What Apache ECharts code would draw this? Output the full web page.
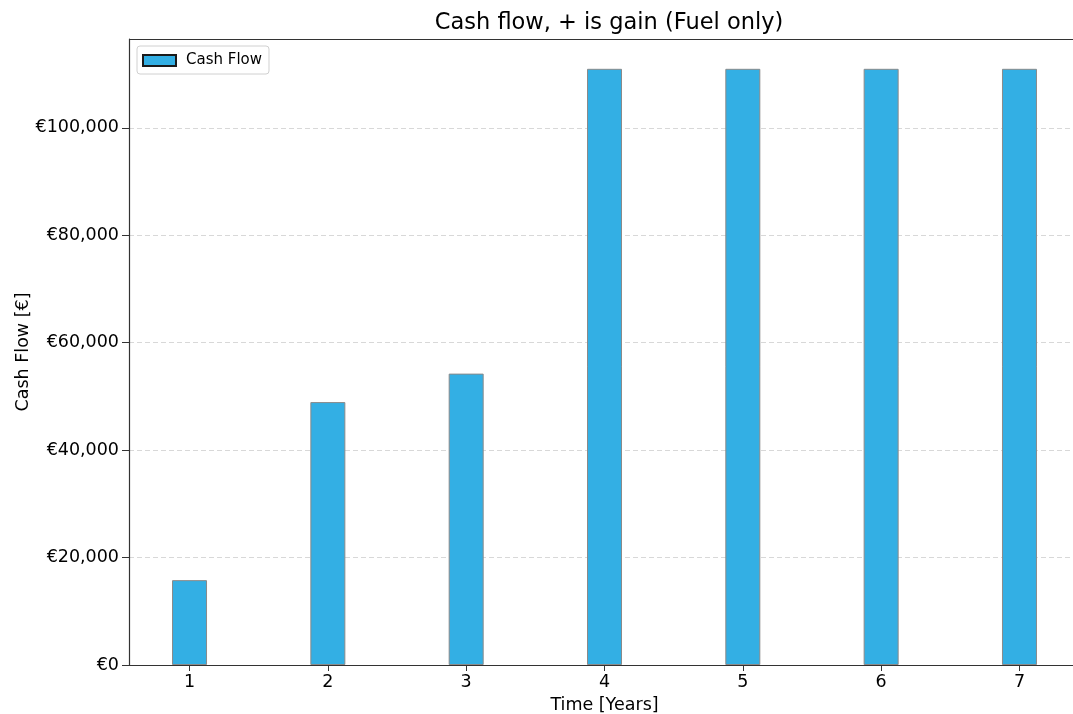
<!DOCTYPE html>
<html>
<head>
<meta charset="utf-8">
<script src="https://cdn.jsdelivr.net/npm/echarts@6/dist/echarts.min.js"></script>
<style>
html,body{margin:0;padding:0;background:#fff;overflow:hidden;}
#chart{position:absolute;left:0;top:0;width:1073px;height:714px;}
</style>
</head>
<body>
<div id="chart"></div>
<script>
const years = [1, 2, 3, 4, 5, 6, 7];
const cashFlow = [15800, 48950, 54250, 111000, 111000, 111000, 111000];
const yTicks = [0, 20000, 40000, 60000, 80000, 100000];

const FONT = 'DejaVu Sans';
const chart = echarts.init(document.getElementById('chart'));
const fmt = v => '€' + v.toLocaleString('en-US');

chart.setOption({
  animation: false,
  backgroundColor: '#ffffff',
  textStyle: { fontFamily: FONT },
  title: {
    text: 'Cash flow, + is gain (Fuel only)',
    left: 604, top: 7, textAlign: 'center',
    textStyle: { fontFamily: FONT, fontSize: 22.5, fontWeight: 'normal', color: '#000' }
  },
  legend: {
    left: 137, top: 46,
    data: ['Cash Flow'],
    orient: 'vertical',
    icon: 'rect',
    itemWidth: 33, itemHeight: 11,
    itemGap: 10,
    padding: [7, 7, 6, 5],
    borderColor: '#d0d0d0', borderWidth: 1, borderRadius: 3,
    backgroundColor: 'rgba(255,255,255,0.8)',
    itemStyle: { color: '#33AFE4', borderColor: '#1a1a1a', borderWidth: 2 },
    textStyle: { fontFamily: FONT, fontSize: 15, color: '#000', padding: [0, 0, 0, 5] }
  },
  grid: { left: 129, right: -7, top: 39, bottom: 49, containLabel: false, outerBoundsMode: 'none', show: false },
  xAxis: {
    type: 'value',
    min: 0.5625, max: 7.4375,
    interval: 1,
    name: 'Time [Years]', nameLocation: 'middle', nameGap: 31,
    nameTextStyle: { fontFamily: FONT, fontSize: 17.5, color: '#000' },
    axisLine: { show: true, onZero: false, lineStyle: { color: '#333', width: 1.2 } },
    axisTick: { show: true, length: 6, lineStyle: { color: '#333' },
      customValues: years },
    axisLabel: { fontFamily: FONT, fontSize: 17.5, color: '#000', margin: 8,
      customValues: years,
      formatter: v => (Number.isInteger(v) ? String(v) : '') },
    splitLine: { show: false }
  },
  yAxis: {
    type: 'value',
    min: 0, max: 116550,
    interval: 20000,
    name: 'Cash Flow [€]', nameLocation: 'middle', nameGap: 97, nameMoveOverlap: false,
    nameTextStyle: { fontFamily: FONT, fontSize: 17.5, color: '#000' },
    axisLine: { show: true, lineStyle: { color: '#333', width: 1.2 } },
    axisTick: { show: true, length: 7, lineStyle: { color: '#333' }, customValues: yTicks },
    axisLabel: { fontFamily: FONT, fontSize: 17.5, color: '#000', margin: 10,
      customValues: yTicks, formatter: v => fmt(v) },
    splitLine: { show: true, lineStyle: { color: '#d8d8d8', type: [5, 3], width: 1 } }
  },
  series: [{
    name: 'Cash Flow',
    type: 'bar',
    barWidth: 35,
    data: years.map((y, i) => [y, cashFlow[i]]),
    itemStyle: { color: '#33AFE4', borderColor: '#8a8a8a', borderWidth: 1 }
  }],
  graphic: [{
    type: 'line', silent: true, z: 100,
    shape: { x1: 129, y1: 39.5, x2: 1080, y2: 39.5 },
    style: { stroke: '#333', lineWidth: 1.2 }
  }]
});
</script>
</body>
</html>
